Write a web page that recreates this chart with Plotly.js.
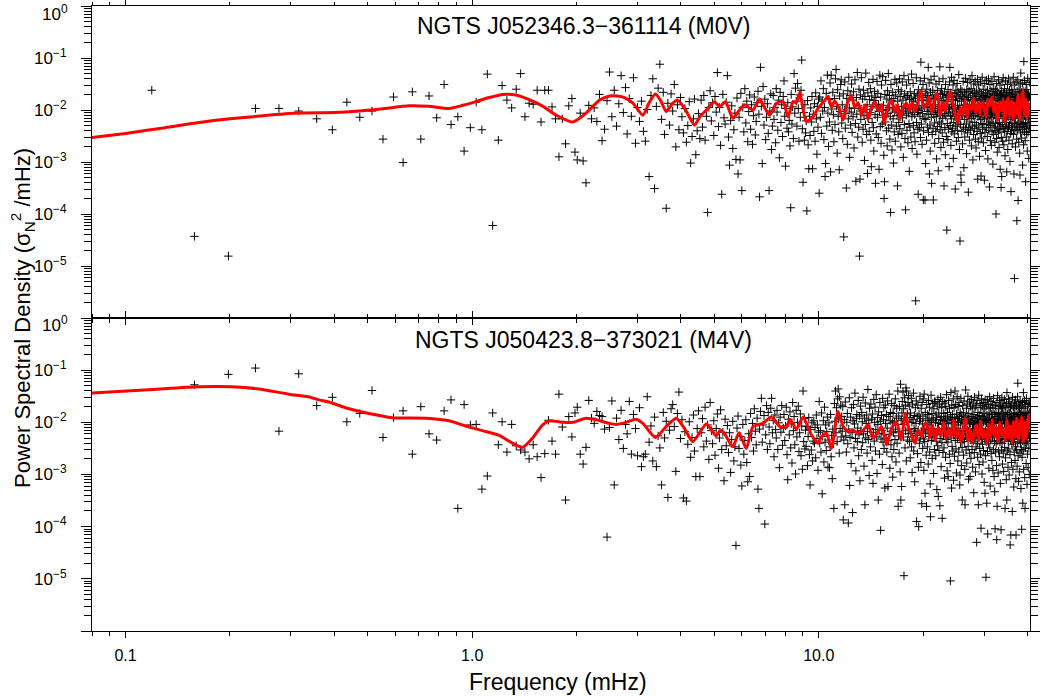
<!DOCTYPE html>
<html>
<head>
<meta charset="utf-8">
<script src="https://cdn.plot.ly/plotly-3.0.1.min.js"></script>
<style>
  html, body { margin: 0; padding: 0; background: #ffffff; }
  #chart { width: 1040px; height: 697px; }
</style>
</head>
<body>
<div id="chart"></div>
<script>
// ---------------- DATA ----------------
// Frequency bins of the periodogram (mHz), shared by both stars
const freqMHz = [
0.119,0.158,0.198,0.237,0.277,0.316,0.356,
0.395,0.435,0.474,0.514,0.553,0.593,0.632,0.672,0.711,0.751,
0.790,0.830,0.869,0.909,0.948,0.988,1.027,1.067,1.106,1.146,
1.19,1.22,1.26,1.30,1.34,1.38,1.42,1.46,1.50,1.54,
1.58,1.62,1.66,1.70,1.74,1.78,1.82,1.86,1.90,1.94,
1.98,2.01,2.05,2.09,2.13,2.17,2.21,2.25,2.29,2.33,
2.37,2.41,2.45,2.49,2.53,2.57,2.61,2.65,2.69,2.73,
2.77,2.80,2.84,2.88,2.92,2.96,3.00,3.04,3.08,3.12,
3.16,3.20,3.24,3.28,3.32,3.36,3.40,3.44,3.48,3.52,
3.56,3.59,3.63,3.67,3.71,3.75,3.79,3.83,3.87,3.91,
3.95,3.99,4.03,4.07,4.11,4.15,4.19,4.23,4.27,4.31,
4.35,4.38,4.42,4.46,4.50,4.54,4.58,4.62,4.66,4.70,
4.74,4.78,4.82,4.86,4.90,4.94,4.98,5.02,5.06,5.10,
5.14,5.17,5.21,5.25,5.29,5.33,5.37,5.41,5.45,5.49,
5.53,5.57,5.61,5.65,5.69,5.73,5.77,5.81,5.85,5.89,
5.93,5.96,6.00,6.04,6.08,6.12,6.16,6.20,6.24,6.28,
6.32,6.36,6.40,6.44,6.48,6.52,6.56,6.60,6.64,6.68,
6.72,6.75,6.79,6.83,6.87,6.91,6.95,6.99,7.03,7.07,
7.11,7.15,7.19,7.23,7.27,7.31,7.35,7.39,7.43,7.47,
7.51,7.54,7.58,7.62,7.66,7.70,7.74,7.78,7.82,7.86,
7.90,7.94,7.98,8.02,8.06,8.10,8.14,8.18,8.22,8.26,
8.30,8.33,8.37,8.41,8.45,8.49,8.53,8.57,8.61,8.65,
8.69,8.73,8.77,8.81,8.85,8.89,8.93,8.97,9.01,9.05,
9.09,9.12,9.16,9.20,9.24,9.28,9.32,9.36,9.40,9.44,
9.48,9.52,9.56,9.60,9.64,9.68,9.72,9.76,9.80,9.84,
9.88,9.91,9.95,9.99,10.03,10.07,10.11,10.15,10.19,10.23,
10.27,10.31,10.35,10.39,10.43,10.47,10.51,10.55,10.59,10.63,
10.67,10.70,10.74,10.78,10.82,10.86,10.90,10.94,10.98,11.02,
11.06,11.10,11.14,11.18,11.22,11.26,11.30,11.34,11.38,11.42,
11.46,11.49,11.53,11.57,11.61,11.65,11.69,11.73,11.77,11.81,
11.85,11.89,11.93,11.97,12.01,12.05,12.09,12.13,12.17,12.21,
12.25,12.28,12.32,12.36,12.40,12.44,12.48,12.52,12.56,12.60,
12.64,12.68,12.72,12.76,12.80,12.84,12.88,12.92,12.96,13.00,
13.04,13.07,13.11,13.15,13.19,13.23,13.27,13.31,13.35,13.39,
13.43,13.47,13.51,13.55,13.59,13.63,13.67,13.71,13.75,13.79,
13.83,13.86,13.90,13.94,13.98,14.02,14.06,14.10,14.14,14.18,
14.22,14.26,14.30,14.34,14.38,14.42,14.46,14.50,14.54,14.58,
14.62,14.65,14.69,14.73,14.77,14.81,14.85,14.89,14.93,14.97,
15.01,15.05,15.09,15.13,15.17,15.21,15.25,15.29,15.33,15.37,
15.41,15.44,15.48,15.52,15.56,15.60,15.64,15.68,15.72,15.76,
15.80,15.84,15.88,15.92,15.96,16.00,16.04,16.08,16.12,16.16,
16.20,16.23,16.27,16.31,16.35,16.39,16.43,16.47,16.51,16.55,
16.59,16.63,16.67,16.71,16.75,16.79,16.83,16.87,16.91,16.95,
16.99,17.02,17.06,17.10,17.14,17.18,17.22,17.26,17.30,17.34,
17.38,17.42,17.46,17.50,17.54,17.58,17.62,17.66,17.70,17.74,
17.78,17.81,17.85,17.89,17.93,17.97,18.01,18.05,18.09,18.13,
18.17,18.21,18.25,18.29,18.33,18.37,18.41,18.45,18.49,18.53,
18.57,18.60,18.64,18.68,18.72,18.76,18.80,18.84,18.88,18.92,
18.96,19.00,19.04,19.08,19.12,19.16,19.20,19.24,19.28,19.32,
19.36,19.39,19.43,19.47,19.51,19.55,19.59,19.63,19.67,19.71,
19.75,19.79,19.83,19.87,19.91,19.95,19.99,20.03,20.07,20.11,
20.15,20.18,20.22,20.26,20.30,20.34,20.38,20.42,20.46,20.50,
20.54,20.58,20.62,20.66,20.70,20.74,20.78,20.82,20.86,20.90,
20.94,20.97,21.01,21.05,21.09,21.13,21.17,21.21,21.25,21.29,
21.33,21.37,21.41,21.45,21.49,21.53,21.57,21.61,21.65,21.69,
21.73,21.76,21.80,21.84,21.88,21.92,21.96,22.00,22.04,22.08,
22.12,22.16,22.20,22.24,22.28,22.32,22.36,22.40,22.44,22.48,
22.52,22.55,22.59,22.63,22.67,22.71,22.75,22.79,22.83,22.87,
22.91,22.95,22.99,23.03,23.07,23.11,23.15,23.19,23.23,23.27,
23.31,23.34,23.38,23.42,23.46,23.50,23.54,23.58,23.62,23.66,
23.70,23.74,23.78,23.82,23.86,23.90,23.94,23.98,24.02,24.06,
24.10,24.13,24.17,24.21,24.25,24.29,24.33,24.37,24.41,24.45,
24.49,24.53,24.57,24.61,24.65,24.69,24.73,24.77,24.81,24.85,
24.89,24.92,24.96,25.00,25.04,25.08,25.12,25.16,25.20,25.24,
25.28,25.32,25.36,25.40,25.44,25.48,25.52,25.56,25.60,25.64,
25.68,25.71,25.75,25.79,25.83,25.87,25.91,25.95,25.99,26.03,
26.07,26.11,26.15,26.19,26.23,26.27,26.31,26.35,26.39,26.43,
26.47,26.50,26.54,26.58,26.62,26.66,26.70,26.74,26.78,26.82,
26.86,26.90,26.94,26.98,27.02,27.06,27.10,27.14,27.18,27.22,
27.26,27.29,27.33,27.37,27.41,27.45,27.49,27.53,27.57,27.61,
27.65,27.69,27.73,27.77,27.81,27.85,27.89,27.93,27.97,28.01,
28.05,28.08,28.12,28.16,28.20,28.24,28.28,28.32,28.36,28.40,
28.44,28.48,28.52,28.56,28.60,28.64,28.68,28.72,28.76,28.80,
28.84,28.87,28.91,28.95,28.99,29.03,29.07,29.11,29.15,29.19,
29.23,29.27,29.31,29.35,29.39,29.43,29.47,29.51,29.55,29.59,
29.63,29.66,29.70,29.74,29.78,29.82,29.86,29.90,29.94,29.98,
30.02,30.06,30.10,30.14,30.18,30.22,30.26,30.30,30.34,30.38,
30.42,30.45,30.49,30.53,30.57,30.61,30.65,30.69,30.73,30.77,
30.81,30.85,30.89,30.93,30.97,31.01,31.05,31.09,31.13,31.17,
31.21,31.24,31.28,31.32,31.36,31.40,31.44,31.48,31.52,31.56,
31.60,31.64,31.68,31.72,31.76,31.80,31.84,31.88,31.92,31.96,
32.00,32.03,32.07,32.11,32.15,32.19,32.23,32.27,32.31,32.35,
32.39,32.43,32.47,32.51,32.55,32.59,32.63,32.67,32.71,32.75,
32.79,32.82,32.86,32.90,32.94,32.98,33.02,33.06,33.10,33.14,
33.18,33.22,33.26,33.30,33.34,33.38,33.42,33.46,33.50,33.54,
33.58,33.61,33.65,33.69,33.73,33.77,33.81,33.85,33.89,33.93,
33.97,34.01,34.05,34.09,34.13,34.17,34.21,34.25,34.29,34.33,
34.37,34.40,34.44,34.48,34.52,34.56,34.60,34.64,34.68,34.72,
34.76,34.80,34.84,34.88,34.92,34.96,35.00,35.04,35.08,35.12,
35.16,35.19,35.23,35.27,35.31,35.35,35.39,35.43,35.47,35.51,
35.55,35.59,35.63,35.67,35.71,35.75,35.79,35.83,35.87,35.91,
35.95,35.98,36.02,36.06,36.10,36.14,36.18,36.22,36.26,36.30,
36.34,36.38,36.42,36.46,36.50,36.54,36.58,36.62,36.66,36.70,
36.74,36.77,36.81,36.85,36.89,36.93,36.97,37.01,37.05,37.09,
37.13,37.17,37.21,37.25,37.29,37.33,37.37,37.41,37.45,37.49,
37.53,37.56,37.60,37.64,37.68,37.72,37.76,37.80,37.84,37.88,
37.92,37.96,38.00,38.04,38.08,38.12,38.16,38.20,38.24,38.28,
38.32,38.35,38.39,38.43,38.47,38.51,38.55,38.59,38.63,38.67,
38.71,38.75,38.79,38.83,38.87,38.91,38.95,38.99,39.03,39.07,
39.11,39.14,39.18,39.22,39.26,39.30,39.34,39.38,39.42,39.46,
39.50,39.54,39.58,39.62,39.66,39.70,39.74,39.78,39.82,39.86,
39.90,39.93,39.97,40.01,40.05,40.09,40.13,40.17,40.21,40.25,
40.29,40.33,40.37,40.41,40.45,40.49,40.53,40.57,40.61,40.65
];

// log10 of the power spectral density, NGTS J052346.3-361114 (M0V), one value per bin
const log10PsdM0V = [
-1.62,-4.43,-4.81,-1.97,-1.97,-2.02,-2.17,
-2.38,-1.85,-2.14,-2.02,-2.56,-1.75,-3.01,-1.65,-2.56,-1.73,
-2.15,-1.51,-2.28,-2.13,-2.79,-2.34,-1.85,-2.38,-1.31,-4.22,
-2.58,-1.53,-1.81,-1.96,-1.60,-1.30,-2.13,-1.87,-1.89,-1.62,
-2.23,-1.62,-1.62,-1.94,-2.17,-2.90,-2.17,-2.65,-1.92,-1.78,
-2.81,-2.96,-2.06,-2.98,-3.40,-1.91,-2.17,-1.96,-2.22,-1.70,
-2.59,-2.37,-1.82,-1.27,-2.13,-1.62,-2.31,-1.88,-1.34,-2.05,
-1.57,-2.46,-1.78,-2.12,-1.38,-2.64,-1.95,-2.22,-1.83,-2.41,
-2.60,-1.99,-3.28,-1.72,-1.40,-3.51,-1.93,-1.58,-1.12,-2.18,
-1.66,-2.47,-3.89,-1.87,-2.29,-1.69,-2.02,-1.51,-2.71,-1.90,
-2.38,-1.76,-2.13,-2.44,-1.97,-2.62,-2.30,-1.84,-3.02,-2.51,
-2.17,-1.79,-2.86,-2.40,-2.07,-2.55,-1.81,-2.33,-1.72,-2.58,
-2.12,-3.97,-1.95,-1.63,-2.21,-1.86,-2.49,-1.74,-2.04,-1.28,
-2.32,-1.95,-2.68,-3.62,-1.70,-2.15,-2.27,-1.85,-1.34,-2.52,
-3.06,-2.20,-1.92,-2.74,-2.38,-2.06,-2.95,-1.77,-3.23,-2.14,
-2.96,-1.68,-3.55,-1.95,-2.42,-1.59,-2.25,-1.83,-2.61,-2.03,
-1.71,-2.37,-1.90,-2.66,-2.11,-1.75,-2.48,-2.22,-1.86,-1.64,
-2.08,-3.67,-1.18,-1.93,-3.03,-1.55,-2.29,-1.79,-2.57,-2.14,
-1.88,-2.45,-3.55,-2.02,-1.69,-2.76,-2.31,-1.72,-2.18,-1.95,
-2.63,-1.59,-2.04,-2.39,-1.81,-2.92,-1.66,-2.24,-1.90,-2.51,
-1.74,-1.44,-2.12,-3.08,-1.97,-2.35,-1.86,-2.42,-2.20,-2.69,
-3.88,-1.70,-2.27,-1.94,-2.55,-1.30,-2.06,-1.58,-1.83,-2.31,
-1.49,-1.97,-2.60,-1.71,-2.14,-1.62,-1.04,-2.36,-3.39,-2.05,
-2.58,-1.90,-2.44,-2.21,-3.94,-1.82,-2.67,-3.13,-2.12,-2.49,
-1.96,-2.23,-1.74,-3.13,-2.08,-2.41,-1.88,-2.60,-1.67,-2.17,
-2.85,-1.93,-2.33,-1.79,-3.60,-1.75,-2.14,-1.44,-2.45,-1.83,
-2.02,-1.59,-2.57,-1.95,-3.28,-3.03,-1.68,-2.31,-1.33,-2.06,
-2.70,-1.80,-2.23,-1.48,-3.19,-1.33,-1.98,-2.39,-1.66,-2.09,
-2.61,-1.78,-2.28,-1.40,-1.22,-1.93,-2.83,-1.61,-2.12,-2.42,
-3.15,-1.73,-2.03,-1.51,-1.42,-2.25,-1.90,-2.55,-1.69,-4.44,
-2.00,-1.46,-2.35,-2.07,-3.50,-1.78,-2.66,-1.63,-2.17,-1.37,
-1.96,-2.91,-1.72,-2.29,-2.04,-1.50,-2.43,-1.81,-2.13,-1.65,
-2.73,-1.97,-1.42,-2.26,-3.37,-1.76,-2.08,-1.28,-2.52,-1.92,
-2.33,-1.60,-4.81,-3.33,-1.71,-2.18,-1.38,-2.02,-2.62,-1.79,
-2.37,-1.62,-2.11,-2.97,-1.74,-2.28,-1.29,-1.99,-2.47,-1.90,
-3.22,-1.67,-2.16,-1.47,-2.41,-1.80,-2.05,-1.59,-2.58,-3.09,
-1.73,-2.24,-1.93,-1.41,-2.34,-2.79,-1.82,-1.64,-2.09,-3.41,
-1.76,-2.46,-1.96,-1.45,-2.14,-1.68,-2.53,-1.89,-3.14,-2.03,
-1.33,-2.32,-1.75,-2.64,-1.52,-1.99,-2.27,-1.36,-2.10,-1.91,
-2.87,-3.70,-3.38,-1.70,-2.23,-1.43,-2.01,-2.40,-1.79,-2.69,
-1.63,-2.07,-1.30,-2.35,-1.95,-1.72,-2.56,-2.12,-3.97,-1.51,
-2.29,-1.82,-2.77,-1.98,-1.66,-2.17,-3.02,-1.78,-2.42,-2.04,
-1.41,-2.60,-1.71,-1.96,-2.31,-1.48,-2.11,-3.46,-1.83,-2.47,
-1.61,-2.24,-2.00,-1.40,-2.36,-1.74,-2.08,-2.71,-1.64,-1.93,
-2.45,-1.46,-2.15,-1.81,-2.91,-2.02,-1.34,-2.28,-1.69,-2.55,
-1.97,-3.92,-1.77,-2.10,-1.52,-2.39,-1.94,-1.72,-2.63,-2.06,
-1.42,-2.26,-3.18,-1.80,-2.33,-1.65,-1.99,-2.52,-1.75,-1.31,
-2.13,-2.74,-1.90,-2.04,-1.49,-2.30,-1.83,-2.44,-1.68,-2.09,
-2.61,-1.78,-5.67,-1.97,-1.38,-2.24,-2.85,-1.71,-2.05,-2.37,
-3.62,-1.61,-2.01,-1.92,-2.34,-1.73,-2.12,-1.44,-2.53,-1.08,
-1.98,-2.27,-1.64,-2.66,-1.82,-2.07,-1.51,-3.73,-2.40,-1.76,
-2.16,-1.39,-1.95,-3.73,-1.69,-3.03,-2.18,-1.81,-2.58,-1.60,
-2.03,-2.33,-1.72,-1.94,-1.18,-2.43,-2.08,-1.48,-3.23,-1.89,
-2.29,-2.79,-1.66,-2.00,-1.42,-2.14,-3.41,-1.77,-2.47,-1.96,
-1.62,-2.36,-3.73,-1.79,-2.09,-1.35,-2.25,-2.64,-1.71,-2.02,
-1.90,-2.41,-1.50,-2.13,-2.94,-1.74,-2.05,-2.32,-1.63,-1.97,
-3.17,-1.78,-2.55,-1.45,-2.23,-1.93,-1.17,-2.38,-1.68,-2.10,
-2.72,-1.82,-2.27,-1.59,-2.01,-2.44,-1.70,-2.16,-1.40,-1.95,
-2.62,-1.81,-3.46,-2.07,-1.65,-2.34,-1.92,-2.86,-1.51,-2.12,
-1.75,-2.51,-1.99,-4.31,-1.72,-2.26,-1.83,-2.57,-1.61,-2.04,
-2.37,-1.76,-3.09,-1.96,-1.46,-1.18,-2.30,-2.10,-1.67,-2.68,
-1.89,-2.17,-1.37,-2.42,-1.94,-1.73,-2.35,-2.06,-1.52,-2.93,
-1.80,-2.24,-1.43,-2.46,-1.98,-1.69,-2.13,-3.52,-1.82,-2.31,
-1.62,-2.03,-2.60,-1.75,-2.09,-1.49,-2.39,-1.91,-2.25,-1.66,
-2.53,-2.00,-1.32,-2.15,-1.78,-2.76,-1.95,-4.52,-1.71,-2.28,
-1.60,-3.25,-3.39,-2.05,-1.83,-2.41,-1.64,-2.11,-2.65,-1.74,
-1.97,-1.45,-2.33,-2.02,-3.11,-1.79,-2.18,-1.67,-2.52,-1.90,
-2.07,-1.39,-2.37,-1.94,-1.71,-2.27,-2.84,-1.61,-2.04,-1.81,
-2.44,-1.47,-2.13,-1.96,-3.58,-1.76,-2.34,-1.64,-2.08,-2.58,
-1.89,-2.23,-1.42,-2.00,-2.39,-1.73,-2.06,-1.59,-2.69,-1.92,
-2.16,-1.34,-2.31,-1.99,-1.68,-2.96,-1.80,-2.11,-2.47,-1.50,
-2.02,-1.83,-2.36,-1.66,-2.24,-1.94,-1.45,-2.56,-1.78,-2.07,
-2.73,-1.71,-2.29,-1.62,-1.98,-2.41,-1.90,-1.41,-3.33,-2.13,
-1.74,-2.61,-2.03,-1.52,-2.33,-1.81,-2.10,-2.89,-1.65,-1.96,
-2.45,-1.46,-2.18,-1.79,-3.27,-2.05,-1.69,-2.54,-1.89,-2.26,
-1.37,-2.01,-2.37,-1.75,-2.08,-1.60,-2.63,-1.93,-1.72,-2.28,
-1.83,-3.35,-2.15,-1.49,-2.43,-1.99,-1.77,-2.78,-1.67,-2.06,
-1.91,-2.34,-1.43,-2.17,-1.95,-1.74,-2.51,-1.62,-2.12,-2.94,
-1.80,-2.27,-1.40,-2.03,-2.39,-1.69,-1.97,-3.48,-1.90,-2.23,
-1.51,-2.08,-2.59,-1.76,-2.30,-1.64,-2.00,-2.68,-1.78,-2.14,
-1.45,-2.42,-1.92,-2.05,-1.71,-3.04,-2.25,-1.59,-1.98,-2.47,
-1.82,-2.10,-1.36,-2.33,-1.94,-1.73,-2.62,-2.07,-1.61,-2.26,
-1.89,-2.40,-4.00,-1.68,-2.02,-2.55,-1.49,-2.16,-1.79,-2.81,
-1.96,-1.65,-2.35,-2.04,-1.77,-2.44,-1.42,-2.11,-1.93,-2.72,
-1.72,-2.24,-1.83,-2.38,-1.52,-3.14,-2.01,-1.70,-2.31,-2.08,
-3.49,-1.81,-2.53,-1.63,-3.28,-1.99,-1.46,-2.28,-1.90,-2.60,
-1.75,-2.13,-1.38,-2.36,-1.97,-1.67,-2.67,-2.05,-1.80,-2.42,
-1.59,-2.17,-1.94,-2.88,-1.73,-2.09,-1.44,-2.32,-2.00,-1.82,
-2.52,-1.66,-2.24,-3.19,-1.78,-2.04,-2.41,-1.51,-1.96,-2.76,
-1.71,-2.14,-1.91,-2.34,-1.40,-2.02,-2.58,-1.76,-2.07,-1.62,
-2.29,-1.93,-2.99,-1.69,-2.18,-1.83,-2.45,-1.48,-3.57,-2.11,
-1.74,-2.37,-1.98,-1.61,-2.26,-1.81,-2.65,-2.03,-1.67,-2.33,
-1.92,-2.12,-1.37,-2.47,-1.97,-1.75,-3.23,-2.08,-1.52,-5.24,
-2.25,-1.80,-2.40,-2.00,-1.70,-2.16,-2.71,-1.83,-2.06,-1.46,
-2.31,-1.95,-1.76,-2.56,-4.13,-2.10,-1.64,-2.38,-1.90,-2.01,
-1.42,-2.27,-3.74,-1.79,-2.13,-1.72,-2.62,-1.98,-1.60,-2.34,
-1.92,-2.07,-2.83,-1.74,-3.25,-2.23,-1.50,-2.02,-2.44,-1.29,
-1.94,-2.28,-1.66,-2.09,-1.81,-2.54,-1.69,-2.17,-1.96,-1.48,
-2.37,-3.06,-1.77,-2.05,-1.63,-2.26,-1.89,-2.67,-2.00,-1.07,
-2.32,-1.72,-2.11,-1.43,-2.42,-1.91,-2.04,-1.65,-2.59,-1.80,
-2.24,-3.38,-1.73,-1.97,-1.51,-2.33,-2.08,-1.78,-2.47,-1.61,
-2.14,-1.93,-2.79,-1.71,-2.06,-1.39,-2.29,-1.82,-2.43,-1.99,
-1.68,-2.17,-2.93,-1.76,-2.10,-1.47,-2.36,-1.95,-1.74,-2.25
];

// log10 of the power spectral density, NGTS J050423.8-373021 (M4V), one value per bin (null = off the chart)
const log10PsdM4V = [
null,-1.28,-1.08,-0.96,-2.17,-1.07,-1.68,
-1.52,-1.99,-1.83,-1.39,-2.29,-1.91,-1.78,-2.61,-1.70,-2.22,
-2.34,-1.78,-1.57,-3.65,-1.66,-2.05,-2.04,-3.28,-3.03,-1.82,
-2.43,-1.99,-2.57,-2.04,-2.45,-2.53,-2.57,-2.70,-2.43,-2.66,
-3.06,-2.60,-1.96,-2.36,-2.61,-1.46,-2.09,-3.49,-1.89,-2.28,
-1.82,-1.71,-2.61,-2.80,-2.48,-1.58,-1.92,-2.02,-1.79,-1.87,
-1.89,-2.13,-4.20,-2.10,-1.59,-3.20,-1.92,-2.33,-1.77,-2.50,
-2.04,-2.22,-1.60,-2.61,-1.85,-2.12,-2.64,-1.72,-2.85,-2.66,
-2.61,-1.51,-2.38,-2.07,-2.74,-1.90,-2.85,-2.26,-2.49,-3.20,
-1.81,-2.30,-1.98,-3.44,-2.15,-1.74,-1.66,-2.08,-2.94,-1.83,
-1.42,-2.31,-1.95,-3.45,-2.18,-3.51,-2.42,-1.99,-2.67,-2.29,
-1.86,-2.55,-3.04,-2.12,-1.78,-3.04,-2.20,-1.93,-2.47,-1.71,
-2.36,-2.05,-2.71,-1.62,-2.16,-2.41,-1.97,-2.63,-2.12,-1.84,
-2.88,-2.30,-1.76,-2.52,-2.19,-3.12,-1.94,-2.45,-2.06,-2.58,
-2.20,-2.96,-2.33,-1.98,-2.74,-2.47,-4.36,-2.11,-1.88,-2.50,
-2.27,-2.82,-3.22,-2.04,-2.61,-2.35,-1.95,-2.77,-3.14,-2.22,
-3.04,-1.83,-2.29,-2.02,-2.55,-1.74,-2.17,-2.43,-1.92,-3.28,
-3.65,-2.13,-1.79,-1.54,-2.38,-2.05,-1.87,-3.95,-2.24,-1.68,
-2.52,-1.81,-2.09,-2.41,-1.73,-1.54,-2.20,-1.96,-2.66,-1.86,
-2.14,-2.30,-1.77,-2.52,-2.01,-2.87,-1.90,-2.19,-1.68,-2.44,
-2.11,-1.85,-2.35,-2.07,-1.71,-2.62,-3.10,-1.94,-2.24,-1.80,
-2.49,-2.03,-2.78,-1.62,-2.16,-1.89,-2.43,-2.99,-1.77,-2.28,
-2.00,-1.69,-2.56,-2.20,-1.84,-2.64,-2.07,-2.90,-1.40,-2.37,
-1.93,-2.51,-2.15,-2.46,-2.08,-2.83,-2.27,-1.91,-2.62,-3.20,
-2.14,-2.53,-2.01,-2.74,-2.36,-1.97,-2.40,-2.10,-2.68,-1.86,
-2.31,-2.05,-2.92,-2.19,-1.60,-2.40,-2.16,-2.57,-1.82,-3.37,
-2.27,-1.97,-2.76,-1.71,-2.38,-2.05,-2.54,-2.18,-1.90,-2.86,
-2.34,-2.01,-2.87,-2.47,-1.85,-2.66,-2.25,-3.08,-2.13,-2.41,
-3.65,-1.64,-1.98,-1.40,-2.20,-1.72,-2.37,-1.55,-1.36,-1.94,
-2.59,-1.51,-2.12,-1.67,-2.28,-1.89,-2.17,-1.70,-3.87,-2.34,
-1.95,-3.58,-1.61,-2.26,-2.57,-2.00,-1.83,-2.41,-3.93,-2.13,
-1.53,-3.21,-2.29,-1.90,-2.79,-1.72,-2.20,-3.73,-1.97,-1.66,
-2.49,-2.03,-1.44,-2.31,-2.93,-1.93,-1.85,-2.37,-2.11,-1.58,
-2.64,-2.24,-1.88,-3.12,-1.69,-2.16,-2.52,-1.81,-1.99,-2.39,
-1.52,-2.22,-2.84,-1.92,-3.58,-1.63,-2.30,-2.02,-1.86,-2.59,
-2.18,-1.37,-2.33,-1.96,-3.02,-1.73,-2.12,-2.47,-1.65,-2.26,
-1.94,-2.73,-1.84,-3.17,-2.19,-1.56,-2.36,-2.00,-1.71,-2.55,
-2.14,-1.47,-2.28,-2.98,-1.91,-2.04,-3.49,-1.80,-2.21,-2.61,
-1.62,-1.98,-4.07,-2.32,-1.87,-2.15,-2.81,-1.54,-2.38,-1.95,
-1.72,-2.50,-2.23,-3.26,-1.67,-2.02,-2.30,-1.85,-2.57,-2.11,
-1.59,-3.23,-2.35,-1.89,-1.46,-2.24,-2.88,-1.97,-1.81,-2.43,
-2.17,-1.64,-2.66,-2.01,-3.05,-1.83,-2.20,-2.52,-1.68,-1.99,
-2.33,-1.55,-2.13,-2.76,-1.92,-1.73,-2.40,-2.04,-1.40,-3.61,
-2.26,-1.88,-2.59,-1.70,-2.18,-2.95,-1.27,-3.49,-1.96,-3.23,
-1.82,-1.60,-2.04,-1.42,-2.28,-1.74,-4.94,-1.93,-1.53,-2.49,
-1.67,-2.16,-1.34,-2.74,-1.40,-1.99,-1.84,-2.34,-1.62,-2.22,
-1.49,-2.13,-1.69,-2.37,-1.91,-2.68,-1.82,-2.21,-1.54,-2.47,
-2.00,-2.96,-1.65,-2.28,-1.95,-1.44,-2.55,-2.12,-1.87,-3.14,
-2.17,-1.72,-2.34,-2.02,-1.59,-3.90,-2.25,-1.89,-2.60,-1.67,
-2.15,-2.86,-4.00,-1.84,-2.40,-1.98,-1.50,-2.30,-1.93,-2.77,
-1.73,-2.19,-3.56,-1.62,-2.03,-2.50,-1.88,-1.55,-2.32,-2.92,
-1.46,-2.11,-2.37,-3.36,-1.81,-2.22,-1.96,-2.63,-3.61,-1.66,
-2.14,-2.47,-1.85,-2.01,-2.80,-1.58,-2.27,-1.92,-1.71,-2.57,
-2.05,-3.18,-3.81,-2.20,-1.48,-2.35,-1.97,-1.83,-2.69,-2.13,
-1.64,-2.29,-1.94,-2.98,-1.74,-2.18,-2.52,-1.61,-1.60,-2.24,
-2.00,-2.64,-1.86,-2.36,-1.91,-3.29,-1.69,-2.12,-2.45,-1.56,
-3.42,-2.02,-1.82,-2.54,-2.16,-1.65,-3.60,-2.31,-1.95,-1.52,
-2.22,-2.85,-1.89,-1.72,-2.39,-3.84,-2.04,-1.60,-2.58,-1.97,
-2.26,-1.83,-2.49,-1.99,-3.07,-1.63,-2.20,-1.92,-2.67,-1.70,
-2.13,-2.33,-1.47,-2.02,-2.93,-1.88,-1.81,-2.38,-3.04,-2.11,
-1.58,-2.23,-1.96,-2.61,-1.73,-2.17,-2.79,-5.04,-1.90,-1.43,
-2.30,-2.01,-3.26,-1.67,-2.46,-1.94,-1.85,-2.55,-2.14,-1.55,
-3.11,-2.25,-1.72,-2.03,-2.65,-1.91,-1.40,-2.35,-1.98,-1.66,
-2.51,-2.19,-2.97,-1.84,-2.12,-1.51,-2.31,-1.93,-2.74,-1.70,
-2.21,-2.00,-2.57,-1.62,-2.28,-1.89,-3.20,-3.01,-1.81,-2.39,
-2.05,-1.54,-2.22,-2.83,-1.95,-1.86,-2.48,-3.49,-2.15,-1.68,
-2.33,-1.97,-2.63,-1.82,-2.18,-1.59,-2.37,-2.02,-2.90,-3.58,
-1.91,-2.26,-1.38,-2.11,-2.53,-1.73,-1.99,-2.78,-1.88,-1.65,
-2.30,-2.16,-1.50,-2.46,-1.94,-3.09,-1.83,-2.23,-2.03,-2.59,
-1.61,-2.13,-3.04,-2.34,-1.69,-2.01,-2.69,-1.89,-1.56,-2.27,
-1.96,-2.52,-1.74,-2.12,-2.86,-1.92,-1.63,-2.36,-2.04,-3.35,
-1.85,-2.20,-2.58,-1.52,-2.00,-2.32,-1.71,-2.95,-2.15,-1.93,
-2.47,-1.67,-2.24,-4.30,-1.98,-1.58,-2.40,-1.90,-2.67,-1.81,
-2.17,-3.58,-2.02,-1.48,-2.29,-2.81,-1.87,-2.11,-2.50,-1.64,
-2.21,-1.95,-2.61,-1.72,-4.03,-2.33,-2.03,-1.55,-2.25,-2.99,
-1.89,-1.68,-2.42,-2.13,-2.76,-1.83,-1.99,-2.54,-1.62,-2.19,
-3.15,-1.92,-2.31,-1.74,-3.36,-1.57,-2.16,-2.64,-1.97,-4.97,
-1.69,-2.37,-2.01,-3.55,-1.86,-2.23,-1.57,-2.56,-4.14,-1.94,
-2.14,-1.66,-2.40,-2.05,-2.88,-1.82,-2.26,-1.90,-1.51,-2.49,
-2.18,-3.22,-1.72,-2.00,-2.34,-1.60,-2.60,-1.96,-2.22,-1.84,
-2.73,-2.03,-1.65,-2.29,-1.93,-2.92,-1.73,-2.13,-2.52,-1.54,
-2.24,-1.98,-3.04,-1.85,-2.37,-3.33,-2.02,-4.04,-1.68,-2.20,
-2.57,-1.89,-1.81,-2.41,-2.12,-2.83,-4.25,-1.62,-3.61,-2.28,
-1.95,-1.49,-2.35,-2.16,-2.97,-1.83,-2.00,-2.55,-1.70,-2.23,
-1.92,-2.66,-1.58,-2.14,-2.38,-1.86,-3.17,-1.97,-1.67,-2.31,
-4.06,-2.02,-1.74,-2.53,-2.19,-1.53,-2.40,-1.90,-2.80,-1.72,
-2.11,-2.26,-1.63,-2.59,-1.94,-2.94,-1.84,-2.17,-2.33,-1.56,
-2.01,-2.48,-1.88,-3.65,-1.69,-2.22,-2.68,-1.96,-1.81,-2.30,
-3.10,-1.64,-2.13,-3.49,-1.43,-2.03,-2.55,-1.85,-2.25,-1.93,
-2.86,-1.71,-2.36,-1.99,-1.55,-2.51,-2.15,-3.01,-1.82,-2.29,
-1.97,-1.61,-2.62,-4.35,-2.05,-1.72,-2.34,-4.16,-1.91,-2.21,
-1.67,-2.77,-2.00,-1.86,-2.42,-2.17,-3.71,-1.52,-2.28,-1.94,
-2.90,-2.12,-1.70,-2.37,-1.89,-3.24,-1.83,-2.23,-2.57,-1.63,
-2.02,-2.32,-1.74,-2.73,-1.96,-1.57,-2.47,-2.16,-3.08,-4.16,
-1.88,-2.25,-1.68,-2.53,-2.00,-1.85,-2.84,-2.14,-1.51,-2.38,
-1.25,-1.94,-2.64,-1.82,-2.20,-3.13,-1.98,-1.65,-2.33,-2.04,
-2.95,-1.72,-2.27,-1.92,-2.59,-1.60,-2.13,-2.41,-1.84,-2.01,
-3.27,-2.30,-1.69,-2.52,-1.97,-4.05,-1.81,-2.22,-2.67,-1.90,
-1.62,-2.35,-3.55,-2.03,-1.86,-2.55,-1.43,-2.17,-2.90,-1.95,
-1.73,-2.39,-2.11,-1.58,-2.28,-3.06,-1.99,-3.65,-1.83,-2.49,
-2.19,-1.66,-2.31,-1.93,-2.79,-1.87,-2.14,-1.54,-2.40,-2.00,
-3.19,-1.82,-2.24,-2.61,-1.91,-1.70,-2.36,-2.04,-2.87,-1.85,
-2.21,-1.96,-1.64,-2.50,-2.13,-3.00,-1.81,-2.29,-1.98,-1.61
];

// Smoothed spectrum (red curve): frequency (mHz) and log10 PSD
const fitFreqM0V = [0.08,0.10,0.13,0.163,0.2,0.25,0.316,0.4,0.472,0.56,0.657,0.75,0.858,0.94,1.025,1.12,1.224,1.337,1.45,1.593,1.75,1.95,2.05,2.13,2.23,2.33,2.49,2.62,2.75,2.91,3.11,3.24,3.38,3.5,3.63,3.78,3.92,4.12,4.38,4.55,4.74,5.0,5.18,5.38,5.65,5.88,6.11,6.46,6.75,7.0,7.22,7.55,7.89,8.15,8.43,8.62,8.81,9.21,9.63,9.95,10.3,10.64,10.88,11.12,11.45,11.76,12.1,12.43,12.7,12.99,13.3,13.6,13.88,14.2,14.52,14.9,15.2,15.44,15.85,16.23,16.6,16.9,17.14,17.5,17.92,18.25,18.6,18.95,19.3,19.71,20.05,20.48,20.8,21.2,21.6,22.0,22.4,22.8,23.2,23.6,24.0,24.6,25.2,25.6,26.0,26.4,26.8,27.2,27.6,28.0,28.4,28.8,29.2,29.6,30.0,30.4,30.8,31.2,31.6,32.0,32.4,32.8,33.2,33.6,34.0,34.4,34.8,35.2,35.6,36.0,36.4,36.8,37.2,37.6,38.0,38.4,38.8,39.2,39.6,40.0,40.4,40.65];
const fitLogM0V = [-2.53,-2.45,-2.34,-2.24,-2.17,-2.11,-2.06,-2.05,-2.02,-1.97,-1.92,-1.93,-1.97,-1.91,-1.84,-1.76,-1.70,-1.71,-1.79,-1.92,-2.10,-2.23,-2.15,-2.06,-1.93,-1.81,-1.73,-1.73,-1.76,-1.87,-2.10,-1.86,-1.69,-1.82,-2.03,-1.88,-1.81,-1.99,-2.29,-2.12,-2.00,-1.84,-1.94,-1.84,-2.16,-2.02,-1.90,-2.00,-1.79,-1.97,-2.10,-1.87,-1.84,-2.13,-1.84,-1.86,-1.67,-2.22,-2.13,-1.97,-1.85,-1.74,-1.95,-1.82,-1.98,-2.19,-1.86,-1.71,-1.95,-1.86,-2.10,-1.90,-2.19,-1.95,-1.84,-2.02,-1.90,-2.26,-1.92,-1.81,-2.05,-1.90,-2.19,-1.95,-1.87,-2.02,-1.86,-2.03,-1.85,-1.63,-1.95,-1.90,-1.75,-2.05,-1.80,-1.68,-2.10,-1.85,-2.02,-1.78,-1.65,-2.00,-2.26,-1.95,-2.10,-1.82,-2.15,-1.90,-2.00,-1.78,-2.05,-1.86,-2.10,-1.84,-1.95,-2.14,-1.80,-1.92,-1.75,-2.05,-1.86,-2.20,-1.85,-2.02,-1.80,-2.25,-1.90,-1.76,-2.12,-1.82,-2.20,-1.88,-2.08,-1.70,-2.18,-1.85,-1.62,-2.10,-1.80,-2.15,-1.88,-2.05];

const fitFreqM4V = [0.0794,0.12,0.1625,0.2028,0.2423,0.296,0.337,0.361,0.386,0.431,0.504,0.588,0.735,0.858,0.959,1.071,1.197,1.307,1.397,1.494,1.597,1.669,1.784,1.95,2.13,2.28,2.49,2.60,2.78,2.97,3.11,3.38,3.63,3.88,4.1,4.33,4.74,5.06,5.2,5.35,5.65,5.89,6.18,6.46,6.9,7.30,7.72,8.07,8.25,8.62,9.01,9.53,9.95,10.18,10.53,10.88,11.37,11.76,12.15,12.56,12.99,13.43,13.88,14.35,14.84,15.18,15.69,16.23,16.77,17.26,17.81,18.15,18.45,18.95,19.37,19.81,20.15,20.48,20.9,21.3,21.7,22.1,22.5,22.9,23.3,23.7,24.1,24.5,24.9,25.3,25.7,26.1,26.5,26.9,27.3,27.7,28.1,28.5,28.9,29.3,29.7,30.1,30.5,30.9,31.3,31.7,32.1,32.5,32.9,33.3,33.7,34.1,34.5,34.9,35.3,35.7,36.1,36.5,36.9,37.3,37.7,38.1,38.5,38.9,39.3,39.7,40.1,40.5,40.65];
const fitLogM4V = [-1.44,-1.37,-1.32,-1.32,-1.36,-1.46,-1.51,-1.57,-1.61,-1.72,-1.83,-1.91,-1.92,-1.97,-2.07,-2.16,-2.25,-2.40,-2.48,-2.30,-2.05,-1.97,-1.99,-2.00,-1.92,-1.95,-2.02,-2.04,-2.00,-1.94,-2.02,-2.29,-2.08,-1.92,-2.12,-2.37,-2.03,-2.26,-2.15,-2.22,-2.47,-2.20,-2.50,-2.08,-2.02,-1.90,-2.08,-2.09,-1.94,-2.13,-1.90,-2.24,-2.40,-2.27,-2.21,-2.50,-1.79,-2.08,-2.18,-2.15,-2.21,-2.15,-2.05,-2.30,-2.18,-2.08,-2.43,-2.11,-1.99,-2.34,-1.83,-2.10,-2.21,-2.40,-2.15,-2.27,-2.05,-2.02,-2.30,-2.05,-2.35,-2.10,-2.25,-2.00,-2.32,-2.12,-2.28,-1.95,-2.30,-2.10,-2.38,-2.15,-1.92,-2.35,-2.12,-2.40,-2.20,-2.05,-2.35,-1.98,-2.30,-2.15,-2.42,-2.05,-2.30,-1.95,-2.28,-2.10,-2.38,-2.00,-2.25,-2.12,-2.35,-1.95,-2.30,-2.08,-2.40,-1.98,-2.28,-1.92,-2.35,-2.05,-1.90,-2.38,-2.00,-2.30,-1.95,-1.85,-2.10];

const titleTop = "NGTS J052346.3\u2212361114 (M0V)";
const titleBottom = "NGTS J050423.8\u2212373021 (M4V)";
const xTitle = "Frequency (mHz)";
const yTitle = "Power Spectral Density (\u03c3<sub>N</sub><sup>2</sup> /mHz)";

const xTickVals = [0.1, 1, 10];
const xTickText = ["0.1", "1.0", "10.0"];
const xMinorVals = [0.08,0.09,0.2,0.3,0.4,0.5,0.6,0.7,0.8,0.9,2,3,4,5,6,7,8,9,20,30,40];
const yTickVals = [1e-6, 1e-5, 1e-4, 1e-3, 1e-2, 1e-1, 1];
// the 10^0 label of each panel is placed as an annotation (it sits a little below its tick, as in the reference)
const yTickText = ["", "10<sup>\u22125</sup>", "10<sup>\u22124</sup>", "10<sup>\u22123</sup>", "10<sup>\u22122</sup>", "10<sup>\u22121</sup>", ""];
const yTopLabel = "10<sup>0</sup>";
const yMinorVals = [];
[1e-6, 1e-5, 1e-4, 1e-3, 1e-2, 1e-1].forEach(function (d) {
  [2,3,4,5,6,7,8,9].forEach(function (m) { yMinorVals.push(+(m * d).toPrecision(3)); });
});

// ---------------- BUILD ----------------
const toPsd = arr => arr.map(v => (v === null ? null : Math.pow(10, v)));
const FONT = "Liberation Sans, Arial, Helvetica, sans-serif";

const markerStyle = {
  symbol: "cross-thin",
  size: 6,
  color: "#000000",
  line: { color: "#000000", width: 1 }
};
const lineStyle = { color: "#ff0000", width: 3, shape: "spline", smoothing: 0.6 };

const traces = [
  { x: freqMHz, y: toPsd(log10PsdM0V), xaxis: "x2", yaxis: "y", type: "scatter", mode: "markers", marker: markerStyle, hoverinfo: "skip" },
  { x: fitFreqM0V, y: toPsd(fitLogM0V), xaxis: "x2", yaxis: "y", type: "scatter", mode: "lines", line: lineStyle, hoverinfo: "skip" },
  { x: freqMHz, y: toPsd(log10PsdM4V), xaxis: "x", yaxis: "y2", type: "scatter", mode: "markers", marker: markerStyle, hoverinfo: "skip" },
  { x: fitFreqM4V, y: toPsd(fitLogM4V), xaxis: "x", yaxis: "y2", type: "scatter", mode: "lines", line: lineStyle, hoverinfo: "skip" }
];

const xBase = {
  type: "log",
  range: [Math.log10(0.08), Math.log10(40.7)],
  showline: true, linecolor: "#000", linewidth: 1,
  mirror: "allticks",
  ticks: "outside", ticklen: 6, tickwidth: 1, tickcolor: "#000",
  tickmode: "array", tickvals: xTickVals, ticktext: xTickText,
  ticklabelstandoff: 4,
  showgrid: false, zeroline: false,
  tickfont: { family: FONT, size: 16, color: "#000" },
  minor: { ticks: "outside", ticklen: 3.5, tickwidth: 1, tickcolor: "#000", tickmode: "array", tickvals: xMinorVals, showgrid: false }
};
const yBase = {
  type: "log",
  range: [-6, 0],
  showline: true, linecolor: "#000", linewidth: 1,
  mirror: "allticks",
  ticks: "outside", ticklen: 10, tickwidth: 1, tickcolor: "#000",
  tickmode: "array", tickvals: yTickVals, ticktext: yTickText,
  ticklabelstandoff: 11,
  showgrid: false, zeroline: false,
  tickfont: { family: FONT, size: 17, color: "#000" },
  minor: { ticks: "outside", ticklen: 7, tickwidth: 1, tickcolor: "#000", tickmode: "array", tickvals: yMinorVals, showgrid: false }
};

const split = 313 / 625;
const labelX = (69 - 92) / 938;       // right edge of the y tick labels, paper units
const layout = {
  width: 1040, height: 697,
  margin: { l: 92, r: 10, t: 6, b: 66, pad: 0 },
  paper_bgcolor: "#ffffff", plot_bgcolor: "#ffffff",
  showlegend: false,
  font: { family: FONT, color: "#000" },
  xaxis: Object.assign({}, xBase, { anchor: "y2", domain: [0, 1] }),
  xaxis2: Object.assign({}, xBase, { anchor: "y", domain: [0, 1], matches: "x", showticklabels: false }),
  yaxis: Object.assign({}, yBase, { anchor: "x2", domain: [split, 1] }),
  yaxis2: Object.assign({}, yBase, { anchor: "x", domain: [0, split] }),
  annotations: [
    { text: titleTop, xref: "paper", yref: "paper", x: 0.5235, y: 0.968, xanchor: "center", yanchor: "middle", showarrow: false, font: { family: FONT, size: 23, color: "#000" } },
    { text: titleBottom, xref: "paper", yref: "paper", x: 0.5235, y: 0.4664, xanchor: "center", yanchor: "middle", showarrow: false, font: { family: FONT, size: 23, color: "#000" } },
    { text: xTitle, xref: "paper", yref: "paper", x: 0.4973, y: -0.0816, xanchor: "center", yanchor: "middle", showarrow: false, font: { family: FONT, size: 23, color: "#000" } },
    { text: yTitle, xref: "paper", yref: "paper", x: -0.0746, y: 0.5008, xanchor: "center", yanchor: "middle", textangle: -90, showarrow: false, font: { family: FONT, size: 22, color: "#000" } },
    { text: yTopLabel, xref: "paper", yref: "paper", x: labelX, y: (631 - 1) / 625, xanchor: "right", yanchor: "top", showarrow: false, borderpad: 0, font: { family: FONT, size: 17, color: "#000" } },
    { text: yTopLabel, xref: "paper", yref: "paper", x: labelX, y: (631 - 312) / 625, xanchor: "right", yanchor: "top", showarrow: false, borderpad: 0, font: { family: FONT, size: 17, color: "#000" } }
  ]
};

Plotly.newPlot("chart", traces, layout, { displayModeBar: false, staticPlot: true });
</script>
</body>
</html>
